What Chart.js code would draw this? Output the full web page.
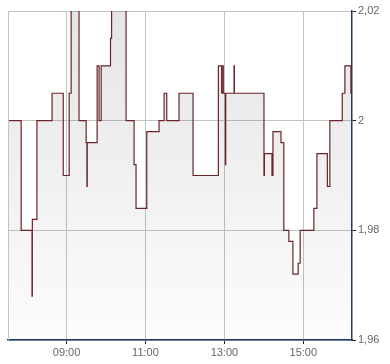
<!DOCTYPE html>
<html lang="de">
<head>
<meta charset="UTF-8">
<title>Intraday</title>
<script src="https://cdn.jsdelivr.net/npm/chart.js"></script>
<style>
    body { margin: 0; background: #fff; }
    #wrap { width: 390px; height: 364px; }
</style>
</head>
<body>
<div id="wrap"><canvas id="chart" width="390" height="364"></canvas></div>
<script>
    // price changes: value holds from this time until the next entry
    const times = [
        '07:31:00', '07:51:00', '08:07:30', '08:08:00', '08:15:00', '08:38:00', '08:55:00',
        '09:04:00', '09:07:00', '09:19:00', '09:29:50', '09:31:00', '09:31:30', '09:46:30',
        '09:49:30', '09:52:40', '10:06:50', '10:08:30', '10:30:30', '10:42:40', '10:45:40',
        '11:02:00', '11:20:40', '11:28:20', '11:32:20', '11:51:00', '12:12:20', '12:50:50',
        '12:55:50', '12:57:50', '12:58:20', '13:01:30', '13:02:00', '13:14:40', '13:15:10',
        '14:00:10', '14:00:50', '14:12:20', '14:13:50', '14:26:00', '14:30:20', '14:38:00',
        '14:44:10', '14:52:10', '14:55:10', '15:16:00', '15:20:40', '15:36:30', '15:40:20',
        '15:59:10', '16:03:10', '16:12:20', '16:12:50'
    ];
    const prices = [
        2.000, 1.980, 1.968, 1.982, 2.000, 2.005, 1.990,
        2.005, 2.030, 2.000, 1.996, 1.988, 1.996, 2.010,
        2.000, 2.010, 2.015, 2.030, 2.000, 1.992, 1.984,
        1.998, 2.000, 2.005, 2.000, 2.005, 1.990, 2.010,
        2.005, 2.010, 2.005, 1.992, 2.005, 2.010, 2.005,
        1.990, 1.994, 1.990, 1.998, 1.996, 1.980, 1.978,
        1.972, 1.974, 1.980, 1.984, 1.994, 1.988, 2.000,
        2.005, 2.010, 2.005, 2.005
    ];
    const xStart = '07:31:00';
    const xEnd = '16:14:00';
    const xTicks = ['09:00', '11:00', '13:00', '15:00'];
    const yTicks = [1.96, 1.98, 2, 2.02];
    const yTickLabels = ['1,96', '1,98', '2', '2,02'];

    function toMin(t) {
        const p = t.split(':').map(Number);
        return p[0] * 60 + p[1] + (p[2] || 0) / 60;
    }

    const points = times.map((t, i) => ({ x: toMin(t), y: prices[i] }));
    const tickFont = { family: "'Liberation Sans', Arial, sans-serif", size: 11 };

    // left border of the plot (the others come from grid/axes)
    const frame = {
        id: 'frame',
        afterDraw(chart) {
            const a = chart.chartArea, c = chart.ctx;
            c.save();
            c.strokeStyle = '#c4c4c4';
            c.lineWidth = 1;
            c.beginPath();
            c.moveTo(a.left + 0.5, a.top);
            c.lineTo(a.left + 0.5, a.bottom);
            c.stroke();
            c.restore();
        }
    };

    new Chart(document.getElementById('chart'), {
        type: 'line',
        data: {
            datasets: [{
                data: points,
                stepped: true,
                borderColor: '#6b2428',
                borderWidth: 1.2,
                pointRadius: 0,
                fill: 'start',
                backgroundColor: function(ctx) {
                    const a = ctx.chart.chartArea;
                    if (!a) return 'rgba(0,0,0,0.06)';
                    const g = ctx.chart.ctx.createLinearGradient(0, a.top, 0, a.bottom);
                    g.addColorStop(0, 'rgba(0,0,0,0.10)');
                    g.addColorStop(1, 'rgba(0,0,0,0.01)');
                    return g;
                }
            }]
        },
        options: {
            responsive: false,
            animation: false,
            layout: { padding: { left: 8, top: 11 } },
            plugins: { legend: { display: false }, tooltip: { enabled: false } },
            scales: {
                x: {
                    type: 'linear',
                    min: toMin(xStart),
                    max: toMin(xEnd),
                    grid: { color: '#c4c4c4', tickColor: '#222', tickLength: 4 },
                    border: { color: '#1d3b6b', width: 1.5 },
                    ticks: {
                        font: tickFont,
                        color: '#666',
                        padding: 2,
                        maxRotation: 0,
                        callback: function(value) {
                            const i = xTicks.findIndex(t => Math.abs(toMin(t) - value) < 0.01);
                            return i >= 0 ? xTicks[i] : '';
                        }
                    },
                    afterBuildTicks: function(axis) {
                        axis.ticks = xTicks.map(t => ({ value: toMin(t) }));
                    },
                    afterFit: function(axis) { axis.height = 24; }
                },
                y: {
                    position: 'right',
                    min: 1.96,
                    max: 2.02,
                    grid: { color: '#c4c4c4', tickColor: '#222', tickLength: 4 },
                    border: { color: '#1d3b6b', width: 1.5 },
                    ticks: {
                        font: tickFont,
                        color: '#666',
                        padding: 2,
                        callback: function(value) {
                            const i = yTicks.findIndex(v => Math.abs(v - value) < 1e-6);
                            return i >= 0 ? yTickLabels[i] : '';
                        }
                    },
                    afterBuildTicks: function(axis) {
                        axis.ticks = yTicks.map(v => ({ value: v }));
                    },
                    afterFit: function(axis) { axis.width = 38; }
                }
            }
        },
        plugins: [frame]
    });
</script>
</body>
</html>
